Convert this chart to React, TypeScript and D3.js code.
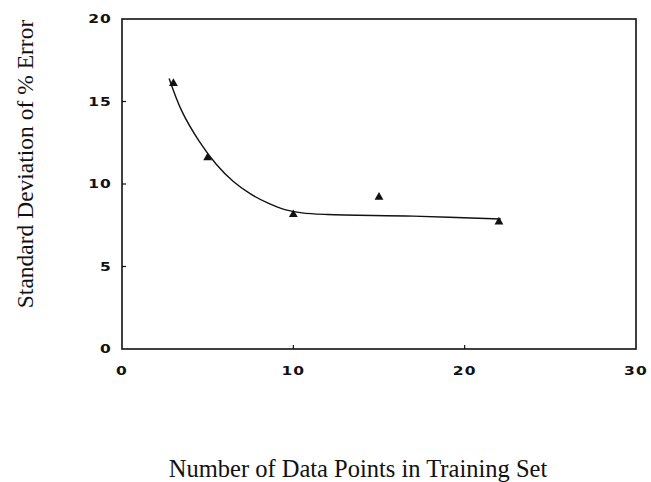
import React, { useEffect, useRef } from "react";
import * as d3 from "d3";

// measured points (triangles)
const pointX = [3, 5, 10, 15, 22];
const pointY = [16.1, 11.6, 8.15, 9.2, 7.7];

// hand-drawn fitted curve
const curveX = [2.75, 3.5, 4.5, 5.5, 6.5, 7.5, 8.5, 9.5, 10.5, 12, 17, 22.1];
const curveY = [16.4, 14.4, 12.6, 11.2, 10.15, 9.4, 8.85, 8.45, 8.25, 8.15, 8.05, 7.88];

const xTicks = [0, 10, 20, 30];
const yTicks = [0, 5, 10, 15, 20];

const W = 651;
const H = 482;

export default function App() {
  const ref = useRef<SVGSVGElement>(null);

  useEffect(() => {
    const svg = d3.select(ref.current);
    svg.selectAll("*").remove();

    const x = d3.scaleLinear().domain([0, 30]).range([122, 636]);
    const y = d3.scaleLinear().domain([0, 20]).range([349, 19]);
    const ink = "#111";
    const tickFont = "DejaVu Sans, Verdana, sans-serif";

    // frame
    svg.append("rect")
      .attr("x", x(0)).attr("y", y(20))
      .attr("width", x(30) - x(0)).attr("height", y(0) - y(20))
      .attr("fill", "none").attr("stroke", ink).attr("stroke-width", 1.6);

    // y ticks (inward) + labels, wide bold digits
    const gy = svg.append("g");
    gy.selectAll("line").data(yTicks.filter(d => d > 0 && d < 20)).join("line")
      .attr("x1", x(0)).attr("x2", x(0) + 4)
      .attr("y1", d => y(d)).attr("y2", d => y(d))
      .attr("stroke", ink).attr("stroke-width", 1.2);
    gy.selectAll("text").data(yTicks).join("text")
      .attr("transform", d => `translate(112,${y(d)}) scale(1.35,1)`)
      .attr("dy", "0.36em")
      .attr("text-anchor", "end")
      .attr("font-family", tickFont)
      .attr("font-weight", "bold").attr("font-size", 11.5)
      .attr("letter-spacing", 0.8)
      .attr("fill", ink)
      .text(d => d);

    // x ticks (inward) + labels
    const gx = svg.append("g");
    gx.selectAll("line").data(xTicks.filter(d => d > 0 && d < 30)).join("line")
      .attr("x1", d => x(d)).attr("x2", d => x(d))
      .attr("y1", y(0)).attr("y2", y(0) - 4)
      .attr("stroke", ink).attr("stroke-width", 1.2);
    gx.selectAll("text").data(xTicks).join("text")
      .attr("transform", d => `translate(${x(d)},374.5) scale(1.35,1)`)
      .attr("text-anchor", "middle")
      .attr("font-family", tickFont)
      .attr("font-weight", "bold").attr("font-size", 11.5)
      .attr("letter-spacing", 0.8)
      .attr("fill", ink)
      .text(d => d);

    // fitted curve
    const line = d3.line<number>()
      .x((_, i) => x(curveX[i]))
      .y((_, i) => y(curveY[i]))
      .curve(d3.curveCatmullRom.alpha(0.5));
    svg.append("path")
      .attr("d", line(curveX))
      .attr("fill", "none").attr("stroke", ink).attr("stroke-width", 1.4);

    // triangles
    const tri = d3.symbol().type(d3.symbolTriangle).size(34);
    svg.append("g").selectAll("path").data(pointX).join("path")
      .attr("transform", (d, i) => `translate(${x(d)},${y(pointY[i])})`)
      .attr("d", tri)
      .attr("fill", ink);

    // axis titles
    svg.append("text")
      .attr("transform", `translate(33,164) rotate(-90)`)
      .attr("text-anchor", "middle")
      .attr("font-family", "Liberation Serif, Times New Roman, serif")
      .attr("font-size", 23.5)
      .attr("fill", ink)
      .text("Standard Deviation of % Error");

    svg.append("text")
      .attr("x", 358).attr("y", 477)
      .attr("text-anchor", "middle")
      .attr("font-family", "Liberation Serif, Times New Roman, serif")
      .attr("font-size", 24.5)
      .attr("fill", ink)
      .text("Number of Data Points in Training Set");
  }, []);

  return (
    <svg
      ref={ref}
      width={W}
      height={H}
      viewBox={`0 0 ${W} ${H}`}
      style={{ position: "absolute", left: 0, top: 0, background: "#fff" }}
    />
  );
}
